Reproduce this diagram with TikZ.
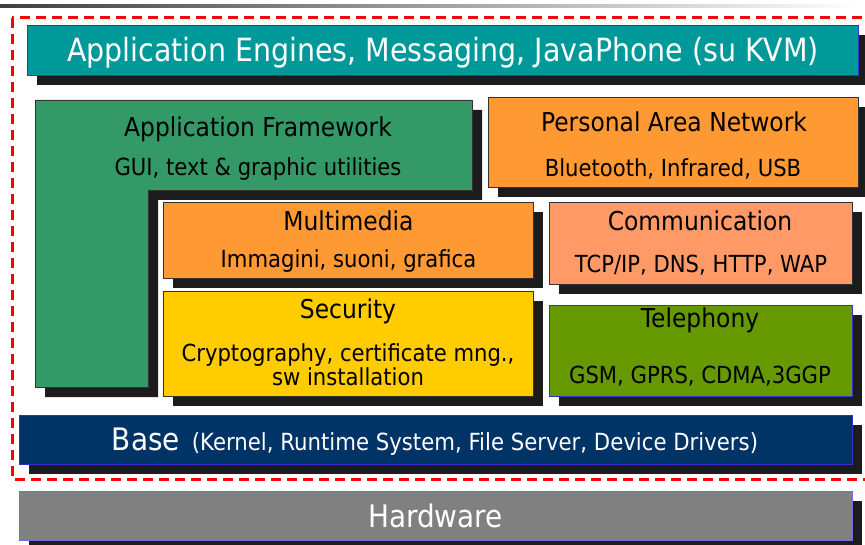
\documentclass[tikz,border=0pt]{standalone}
\usepackage{fontspec}
\setmainfont{DejaVu Sans}[FakeStretch=0.9]
\newfontfamily\narrowsans{DejaVu Sans}[FakeStretch=0.889]
\usetikzlibrary{shadows}
\definecolor{teal1}{HTML}{009999}
\definecolor{green1}{HTML}{339966}
\definecolor{orange1}{HTML}{FF9933}
\definecolor{salmon1}{HTML}{FF9966}
\definecolor{yellow1}{HTML}{FFCC00}
\definecolor{olive1}{HTML}{669900}
\definecolor{navy1}{HTML}{003366}
\definecolor{grey1}{HTML}{808080}
\definecolor{shade1}{HTML}{1C1C1C}
\definecolor{edgeblue}{HTML}{3333CC}
\definecolor{dashred}{HTML}{FF0000}
\tikzset{
  layer/.style={draw=#1, line width=0.8pt,
    drop shadow={shadow xshift=10pt, shadow yshift=-10pt, fill=shade1, opacity=1}},
  box/.style={rectangle, inner sep=0pt, anchor=north west, layer=#1},
  title/.style={font=\fontsize{26}{28}\selectfont, text=black, inner sep=0pt, anchor=base},
  sub/.style={font=\fontsize{23.5}{25}\selectfont, text=black, inner sep=0pt, anchor=base},
}
\begin{document}
\begin{tikzpicture}[x=1pt,y=-1pt]
\useasboundingbox (0,0) rectangle (865,545);
\fill[white] (0,0) rectangle (865,545);

% thin rule at the top of the page
\shade[left color=black!75, right color=white] (0,4.5) rectangle (860,7.5);

% outer dashed frame
\draw[dashred, line width=3pt, dash pattern=on 10pt off 6pt] (12,18) rectangle (880,479);

% top bar
\node[box=edgeblue, fill=teal1, minimum width=831pt, minimum height=50pt] (top) at (27,25) {};
\node[text=white, font=\narrowsans\fontsize{32}{34}\selectfont, inner sep=0pt, anchor=base] (toptxt) at (443,62)
  {Application Engines, Messaging, JavaPhone (su KVM)};

% application framework (L-shaped)
\path[layer=black!80, fill=green1] (35,100) -- (472,100) -- (472,190) -- (148,190) -- (148,387) -- (35,387) -- cycle;
\node[title] (aftitle) at (258,137) {Application Framework};
\node[sub] (afsub) at (258,176) {GUI, text \& graphic utilities};

% personal area network
\node[box=black!80, fill=orange1, minimum width=370pt, minimum height=90pt] (pan) at (488,97) {};
\node[title] (pantitle) at (674,132) {Personal Area Network};
\node[sub] (pansub) at (673,177) {Bluetooth, Infrared, USB};

% multimedia
\node[box=black!80, fill=orange1, minimum width=370pt, minimum height=76pt] (mm) at (163,202) {};
\node[title] (mmtitle) at (348.5,231) {Multimedia};
\node[sub] (mmsub) at (348.5,268) {Immagini, suoni, grafica};

% communication
\node[box=black!80, fill=salmon1, minimum width=303pt, minimum height=82pt] (com) at (549,202) {};
\node[title] (comtitle) at (700,231) {Communication};
\node[sub] (comsub) at (701,273) {TCP/IP, DNS, HTTP, WAP};

% security
\node[box=black!80, fill=yellow1, minimum width=370pt, minimum height=105pt] (sec) at (163,291) {};
\node[title] (sectitle) at (348,319) {Security};
\node[sub] (secsuba) at (348,361) {Cryptography, certificate mng.,};
\node[sub] (secsubb) at (348,385) {sw installation};

% telephony
\node[box=edgeblue, fill=olive1, minimum width=303pt, minimum height=91pt] (tel) at (549,305) {};
\node[title] (teltitle) at (700,328) {Telephony};
\node[sub] (telsub) at (700,383) {GSM, GPRS, CDMA,3GGP};

% base layer
\node[box=edgeblue, fill=navy1, minimum width=833pt, minimum height=49pt] (base) at (19,415) {};
\node[text=white, inner sep=0pt, anchor=base] (basetxt) at (435,450)
  {{\fontsize{31}{32}\selectfont Base}\hspace{12pt}{\fontsize{23.6}{24}\selectfont(Kernel, Runtime System, File Server, Device Drivers)}};

% hardware
\node[box=edgeblue!70, fill=grey1, minimum width=833pt, minimum height=49pt] (hw) at (19,491) {};
\node[text=white, font=\fontsize{31}{33}\selectfont, inner sep=0pt, anchor=base] (hwtxt) at (435.5,527) {Hardware};
\end{tikzpicture}
\end{document}
